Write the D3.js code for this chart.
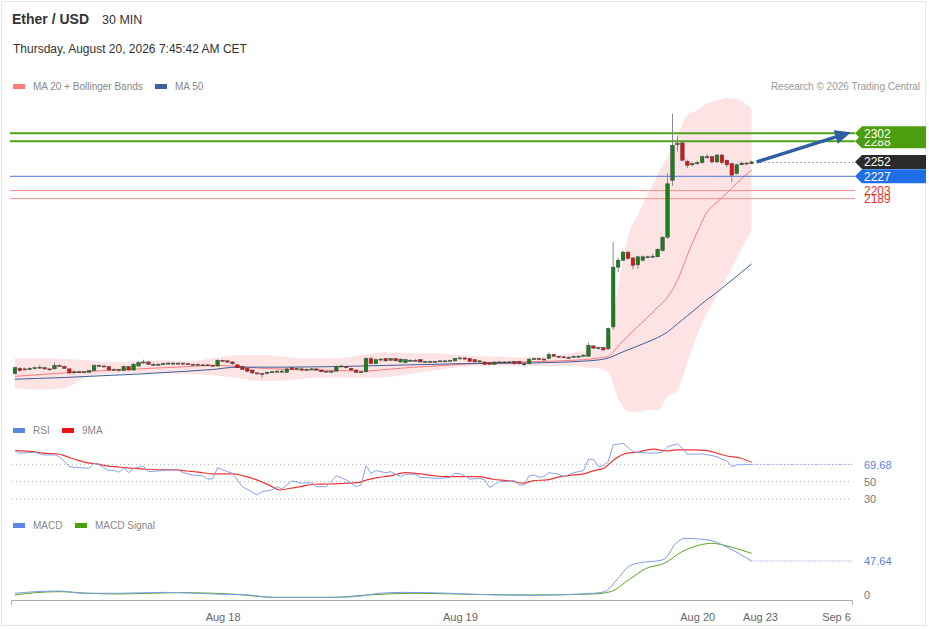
<!DOCTYPE html>
<html>
<head>
<meta charset="utf-8">
<script src="https://cdn.jsdelivr.net/npm/d3@7"></script>
<style>
  body { margin: 0; background: #fff; font-family: "Liberation Sans", Arial, sans-serif; }
</style>
</head>
<body>
<div id="chart"></div>
<script>
// ---- candle data (30 min bars, index 0 = Aug 17 03:00) ----
const opens = [
  1884,1893,1892,1891,1893,1894,1894,1892,1892,1898,
  1896,1892,1885,1887,1887,1886,1889,1898,1897,1896,
  1890,1891,1889,1896,1890,1897,1903,1904,1900,1900,
  1900,1901,1902,1902,1902,1901,1900,1900,1899,1899,
  1898,1897,1907,1906,1904,1899,1896,1893,1890,1885,
  1884,1884,1886,1887,1888,1886,1894,1891,1892,1890,
  1891,1892,1890,1887,1888,1888,1896,1896,1893,1890,
  1886,1887,1910,1901,1908,1910,1907,1910,1904,1903,
  1907,1907,1908,1904,1905,1905,1905,1906,1906,1906,
  1910,1911,1910,1908,1904,1904,1903,1900,1904,1904,
  1904,1905,1905,1901,1901,1909,1910,1909,1910,1917,
  1914,1913,1912,1912,1914,1914,1914,1932,1928,1929,
  1927,1965,2069,2081,2095,2085,2073,2081,2087,2087,
  2087,2098,2121,2220,2282,2285,2253,2247,2249,2251,
  2261,2261,2252,2264,2255,2249,2232,2247,2250,2249
];
const closes = [
  1894,1889,1891,1893,1894,1895,1892,1891,1898,1897,
  1893,1885,1887,1887,1886,1889,1898,1897,1897,1890,
  1891,1889,1896,1890,1900,1903,1904,1900,1900,1900,
  1901,1902,1902,1902,1901,1900,1900,1899,1899,1898,
  1897,1907,1906,1904,1901,1894,1891,1888,1885,1884,
  1883,1886,1887,1888,1888,1892,1891,1893,1890,1891,
  1892,1890,1887,1888,1888,1896,1897,1894,1890,1886,
  1887,1910,1901,1908,1909,1906,1910,1906,1909,1908,
  1907,1907,1904,1905,1905,1905,1906,1906,1907,1910,
  1911,1909,1905,1904,1906,1900,1900,1904,1904,1904,
  1904,1901,1901,1901,1909,1910,1909,1909,1917,1914,
  1913,1912,1912,1914,1914,1916,1933,1928,1929,1925,
  1962,2069,2081,2095,2084,2072,2087,2087,2087,2088,
  2100,2121,2214,2281,2284,2255,2246,2249,2251,2261,
  2261,2252,2264,2251,2247,2229,2247,2250,2249,2252
];
const highs = [
  1896,1895,1894,1895,1896,1898,1896,1893,1903,1900,
  1898,1893,1889,1889,1888,1890,1900,1899,1899,1897,
  1893,1892,1898,1897,1902,1905,1908,1906,1903,1902,
  1903,1904,1904,1903,1903,1902,1901,1901,1900,1900,
  1899,1909,1908,1907,1905,1900,1897,1894,1891,1886,
  1885,1888,1889,1890,1891,1893,1895,1895,1893,1893,
  1894,1893,1891,1889,1890,1898,1899,1897,1894,1891,
  1889,1912,1913,1910,1911,1911,1911,1911,1910,1909,
  1909,1909,1909,1906,1906,1906,1907,1907,1908,1911,
  1913,1912,1911,1909,1907,1905,1904,1905,1906,1905,
  1906,1906,1906,1903,1910,1912,1911,1911,1921,1918,
  1915,1914,1914,1915,1916,1917,1938,1933,1931,1931,
  1964,2113,2085,2098,2097,2086,2089,2089,2089,2092,
  2102,2123,2232,2336,2298,2287,2256,2252,2254,2263,
  2266,2263,2266,2266,2256,2251,2249,2252,2252,2254
];
const lows = [
  1882,1887,1889,1890,1891,1892,1890,1889,1891,1895,
  1892,1883,1884,1885,1885,1885,1888,1896,1895,1888,
  1889,1887,1888,1889,1889,1896,1901,1899,1898,1898,
  1899,1900,1900,1900,1899,1899,1898,1898,1897,1897,
  1896,1896,1904,1902,1899,1893,1890,1886,1883,1882,
  1877,1882,1885,1886,1886,1885,1890,1890,1888,1889,
  1890,1889,1886,1886,1886,1887,1895,1893,1889,1885,
  1885,1886,1900,1900,1906,1905,1906,1905,1903,1902,
  1905,1906,1903,1903,1904,1904,1904,1905,1905,1905,
  1909,1908,1904,1903,1903,1899,1899,1899,1903,1902,
  1903,1900,1900,1896,1900,1908,1907,1908,1909,1913,
  1911,1911,1910,1911,1913,1913,1913,1926,1926,1923,
  1925,1960,2060,2079,2082,2065,2066,2079,2085,2086,
  2086,2096,2118,2210,2270,2253,2241,2244,2247,2249,
  2257,2249,2250,2248,2243,2217,2230,2246,2247,2248
];

// ---- indicator readings (bar index -> value) ----
const indIdx = [0,5,10,15,20,25,30,35,40,45,50,55,60,65,70,75,80,85,90,95,100,105,110,115,
                118,120,122,124,126,128,130,132,134,136,138,140,142,144,146,149];
const ma20 = [1879,1882,1885,1887.5,1890,1892,1894,1896,1898.5,1896,1893,1891,1890,1889.5,1888,1891,1894.5,1897,1900,1902,
              1903.5,1904.5,1906,1908,1910.7,1914,1931.6,1949,1966,1982,1999,2017,2046,2090,2130,2165,2182,2198,2215,2238];
const ma50 = [1874,1875.5,1877,1879,1881,1883,1885.5,1888,1891,1895,1895,1895,1895.5,1896,1897,1898,1899,1900,1901,1901.5,
              1902,1902.5,1903.5,1905.5,1907.5,1910.7,1918,1925.3,1931.8,1939,1946.4,1956.3,1970.3,1984.4,1998.5,2012.6,2025.3,2039.4,2053.3,2074.5];
const bbUpper = [1910.7,1910.7,1909,1907,1903.7,1905.5,1907,1905.5,1910.7,1916,1916,1912.4,1910.7,1910.7,1916,1921,1919.3,1919.3,1916,1914,
                 1912.4,1912.4,1916,1923,1926,1933,2036,2122,2160,2196,2230,2261,2296,2333,2342,2354,2359,2363,2361,2345];
const bbLower = [1858.5,1856,1858.5,1879,1883,1884.6,1884.6,1882.9,1881,1876,1870.7,1872.4,1876,1877.6,1876,1877.6,1882.9,1889.8,1895,1896.8,
                 1896.8,1896.8,1896.8,1895,1893,1886,1841,1818.5,1817,1820,1820,1844.6,1855,1903.7,1950.7,1989,2020,2051.6,2084.6,2133.3];

const rsiIdx = [0,1,4,6,8,9,11,13,15,16,17,19,20,21,22,23,24,26,27,29,31,33,34,36,38,39,40,41,43,44,46,49,50,52,53,54,56,58,60,61,
                63,65,67,69,70,71,72,73,75,76,78,79,81,82,85,86,88,89,90,91,92,94,95,96,98,99,101,102,103,104,105,106,107,108,110,111,
                113,115,116,117,118,119,120,121,123,125,127,129,131,132,134,135,136,139,140,142,143,144,145,146,147,149];
const rsiVal = [85.8,82.8,83.9,80.8,80.8,78.8,67.3,66.1,65.4,71.2,69.3,62.7,63.5,60.8,65.4,60.4,65.4,68.1,61.5,62.3,63.5,63.5,60.4,57.7,56.6,52.8,53.5,66.1,61.5,59.7,
                44.2,34.7,38.5,40.4,44.2,41.6,50.8,48.2,48.8,44.2,44.2,56.9,52,44.2,46.2,68.5,59.7,62.7,60.4,61.5,55.8,58.5,58.5,55,53.9,53.9,55,59.7,58.9,56.6,
                52.8,53.9,52,43.1,50,50,51.2,46.2,46.2,56.6,57.7,55,55.8,60.4,58.5,55.8,60.4,62.7,75.8,75.8,67.3,68.5,73.1,92.3,94.3,84.6,83.4,82.8,83.9,90.4,
                93.5,88.5,81.6,81.9,81.1,78.8,75.8,74.2,67.3,69.3,69.6,69.68];
const rsiMaIdx = [0,3.7,5.7,8.8,10.5,12.5,14.5,16.5,18.6,21.3,23.9,26.7,30.7,32.7,34.8,37.4,40.1,44.2,46.2,48.9,51.6,53.6,55.7,57.7,60.4,63.8,66.5,69.2,71.2,73.2,
                  75.9,79,82,84.7,86.7,90,93.5,96.8,100.2,102.9,104.9,107.6,110.3,113,115,117.1,119.1,121.1,123.8,125.9,127.9,129.2,131.9,133.9,137.3,140,142,144,146.8,149];
const rsiMaVal = [85.8,84.6,82.8,81.9,78.8,75,71.9,70.4,68.1,66.6,65.4,64.3,63.5,63.5,62.3,60.8,58.9,58.9,56.6,52,45.4,40.4,42.4,44.2,47,47.3,48.1,48.8,52,54.6,
                  56.6,60.4,58.9,56.9,55.8,55.8,55.8,52.8,50.8,48.2,51.2,52,55.8,57.7,58.9,62.7,65.4,75,82.8,83.9,86.6,87.4,85.4,86.6,86.6,85.8,82.8,79.6,77,72.4];

const macdIdx = [0,4.2,9,13.7,21,30.5,36.5,42.5,47.3,52.1,56.9,64.1,68.9,73.7,78.5,83.3,88.1,92.9,98.9,104.9,110.9,116.9,119.3,121.7,124.1,126.5,130.1,131.3,133.7,135.5,138.5,140.9,144.5,149];
const macdVal = [2.4,4.7,5.6,2.4,2.4,3.7,2.4,0.9,0,-3.3,-3.3,-3.3,-2.3,2.4,3.7,3.3,2.4,0.9,0,-0.5,0.5,2.4,4.7,21,39.7,45.3,48,50,72.4,79.4,78.4,76.1,65.4,47.64];
const signalIdx = [0,4.2,9,15,21,32.9,44.9,52.1,64.1,71.3,80.9,92.9,104.9,116.9,120.5,124.1,127.7,131.3,134.9,138.5,140.9,143.3,146.9,149];
const signalVal = [0,3.3,4.7,2.4,1.4,3.3,0.9,-3.3,-3.3,0,2.4,0.9,0,1.4,4.7,21,37.3,44.3,60.6,70,72.4,70,63,58.4];

// ---- levels and axis ticks ----
const resistances = [2302, 2288];
const lastPrice = 2252;
const pivot = 2227;
const supports = [2203, 2189];
const tickDates = [new Date(2026,7,18), new Date(2026,7,19), new Date(2026,7,20), new Date(2026,7,23), new Date(2026,8,6)];
const tickLabels = ["Aug 18", "Aug 19", "Aug 20", "Aug 23", "Sep 6"];
const rsiLevels = [70, 50, 30];

// ---- layout ----
const width = 929, height = 629;
const font = '"Liberation Sans", Arial, sans-serif';
const last = closes.length - 1;
const barMs = 30 * 60 * 1000;
const t0 = new Date(2026, 7, 17, 3, 0);
const timeAt = i => new Date(t0.getTime() + i * barMs);

const svg = d3.select('#chart').append('svg')
    .attr('width', width).attr('height', height)
    .style('font-family', font);

svg.append('rect')
    .attr('x', 1.5).attr('y', 1.5).attr('width', 924).attr('height', 624)
    .attr('fill', '#fff').attr('stroke', '#e3e8ec');

// x: bars, then a compressed future zone
const x = d3.scaleTime()
    .domain([timeAt(-0.8), timeAt(last), tickDates[3], tickDates[4], new Date(2026, 8, 9)])
    .range([11, 751.6, 760, 836, 852]);
const xRight = x.range()[4];

const y = d3.scaleLinear().domain([1817, 2351]).range([412, 105]);
const yRsi = d3.scaleLinear().domain([30, 70]).range([499, 464.3]);
const yMacd = d3.scaleLinear().domain([0, 47.64]).range([595, 561]);

// ---- header ----
svg.append('text').attr('x', 12).attr('y', 24).text('Ether / USD')
    .attr('font-size', 14).attr('font-weight', 'bold').attr('fill', '#333');
svg.append('text').attr('x', 102).attr('y', 24).text('30 MIN')
    .attr('font-size', 12.5).attr('fill', '#333');
svg.append('text').attr('x', 13).attr('y', 53).text('Thursday, August 20, 2026 7:45:42 AM CET')
    .attr('font-size', 12).attr('fill', '#333');
svg.append('text').attr('x', 920).attr('y', 90).text('Research \u00a9 2026 Trading Central')
    .attr('font-size', 10).attr('fill', '#999').attr('text-anchor', 'end');

function legend(items, yy) {
    items.forEach(it => {
        svg.append('rect').attr('x', it.x).attr('y', yy - 6).attr('width', 12).attr('height', 5).attr('fill', it.color);
        svg.append('text').attr('x', it.x + 20).attr('y', yy).text(it.label)
            .attr('font-size', 10).attr('fill', '#888');
    });
}
legend([{x: 13, color: '#ff7a7a', label: 'MA 20 + Bollinger Bands'}, {x: 155, color: '#3b5f9e', label: 'MA 50'}], 90);
legend([{x: 13, color: '#5b84e6', label: 'RSI'}, {x: 62, color: '#ee1111', label: '9MA'}], 434);
legend([{x: 13, color: '#5b84e6', label: 'MACD'}, {x: 75, color: '#46a010', label: 'MACD Signal'}], 529);

// ---- main panel ----
const bands = indIdx.map((i, k) => ({t: timeAt(i), up: bbUpper[k], lo: bbLower[k], m20: ma20[k], m50: ma50[k]}));

svg.append('path').datum(bands)
    .attr('fill', '#fde3e3')
    .attr('d', d3.area().curve(d3.curveMonotoneX).x(d => x(d.t)).y0(d => y(d.lo)).y1(d => y(d.up)));

svg.append('path').datum(bands).attr('fill', 'none').attr('stroke', '#ff7a7a').attr('stroke-width', 1)
    .attr('d', d3.line().curve(d3.curveMonotoneX).x(d => x(d.t)).y(d => y(d.m20)));
svg.append('path').datum(bands).attr('fill', 'none').attr('stroke', '#3b5f9e').attr('stroke-width', 1)
    .attr('d', d3.line().curve(d3.curveMonotoneX).x(d => x(d.t)).y(d => y(d.m50)));

// level lines
resistances.forEach(v => {
    svg.append('line').attr('x1', 10).attr('x2', 855).attr('y1', y(v)).attr('y2', y(v))
        .attr('stroke', '#4fa31a').attr('stroke-width', 2);
});
svg.append('line').attr('x1', 10).attr('x2', 855).attr('y1', y(pivot)).attr('y2', y(pivot))
    .attr('stroke', '#4a78d8').attr('stroke-width', 1);
supports.forEach(v => {
    svg.append('line').attr('x1', 10).attr('x2', 855).attr('y1', y(v) + 0.5).attr('y2', y(v) + 0.5)
        .attr('stroke', '#f09090').attr('stroke-width', 1);
});
svg.append('line').attr('x1', x(timeAt(last)) + 5).attr('x2', 855)
    .attr('y1', y(lastPrice) + 0.5).attr('y2', y(lastPrice) + 0.5)
    .attr('stroke', '#555').attr('stroke-dasharray', '1,3');

// candles
const bars = closes.map((c, i) => ({t: timeAt(i), o: opens[i], h: highs[i], l: lows[i], c: c}));
const candle = svg.append('g').selectAll('g').data(bars).enter().append('g');
candle.append('line')
    .attr('x1', d => x(d.t)).attr('x2', d => x(d.t))
    .attr('y1', d => y(d.h)).attr('y2', d => y(d.l))
    .attr('stroke', '#888').attr('stroke-width', 1);
candle.append('rect')
    .attr('x', d => x(d.t) - 1.8).attr('width', 3.6)
    .attr('y', d => y(Math.max(d.o, d.c)))
    .attr('height', d => Math.max(1, Math.abs(y(d.o) - y(d.c))))
    .attr('fill', d => d.c > d.o ? '#17801a' : (d.c < d.o ? '#e31010' : '#444'))
    .attr('stroke', '#444').attr('stroke-width', 0.5);

// projection arrow
const ax0 = x(timeAt(last)) + 5, ay0 = y(lastPrice);
const ax1 = xRight - 1, ay1 = y(resistances[0]) - 1;
const ang = Math.atan2(ay1 - ay0, ax1 - ax0);
const headL = 16, headW = 7;
const bx = ax1 - headL * Math.cos(ang), by = ay1 - headL * Math.sin(ang);
svg.append('line').attr('x1', ax0).attr('y1', ay0).attr('x2', bx + 2 * Math.cos(ang)).attr('y2', by + 2 * Math.sin(ang))
    .attr('stroke', '#2f5ea6').attr('stroke-width', 3.5);
svg.append('path')
    .attr('d', `M${ax1},${ay1}L${bx - headW * Math.sin(ang)},${by + headW * Math.cos(ang)}L${bx + headW * Math.sin(ang)},${by - headW * Math.cos(ang)}Z`)
    .attr('fill', '#2f5ea6');

// right price labels (2288 sits under the 2302 tag, 2203 under the 2227 tag, as in the source)
function tag(v, fill) {
    const yc = y(v);
    svg.append('path')
        .attr('d', `M855,${yc}L862,${yc - 7}L926,${yc - 7}L926,${yc + 7}L862,${yc + 7}Z`)
        .attr('fill', fill);
    svg.append('text').attr('x', 864).attr('y', yc + 4.5).text(v)
        .attr('font-size', 12).attr('fill', '#fff');
}
supports.forEach(v => {
    svg.append('text').attr('x', 864).attr('y', y(v) + 4.5).text(v)
        .attr('font-size', 12).attr('fill', '#e8302a');
});
tag(resistances[1], '#4c9e10');
tag(resistances[0], '#4c9e10');
tag(pivot, '#1f6ee8');
tag(lastPrice, '#2b2b2b');

// ---- RSI panel ----
rsiLevels.forEach(v => {
    svg.append('line').attr('x1', 12).attr('x2', xRight).attr('y1', yRsi(v)).attr('y2', yRsi(v))
        .attr('stroke', '#aaa').attr('stroke-dasharray', '1,3');
});
const rsiPts = rsiIdx.map((i, k) => ({t: timeAt(i), v: rsiVal[k]}));
const rsiMaPts = rsiMaIdx.map((i, k) => ({t: timeAt(i), v: rsiMaVal[k]}));
const rsiLast = rsiVal[rsiVal.length - 1];
svg.append('line').attr('x1', x(timeAt(last))).attr('x2', xRight)
    .attr('y1', yRsi(rsiLast)).attr('y2', yRsi(rsiLast))
    .attr('stroke', '#6d8fe8').attr('stroke-dasharray', '1,2');
svg.append('path').datum(rsiMaPts).attr('fill', 'none').attr('stroke', '#f03434').attr('stroke-width', 1.2)
    .attr('d', d3.line().curve(d3.curveMonotoneX).x(d => x(d.t)).y(d => yRsi(d.v)));
svg.append('path').datum(rsiPts).attr('fill', 'none').attr('stroke', '#86a2ea').attr('stroke-width', 1)
    .attr('d', d3.line().x(d => x(d.t)).y(d => yRsi(d.v)));
svg.append('text').attr('x', 864).attr('y', yRsi(rsiLast) + 4).text(rsiLast.toFixed(2))
    .attr('font-size', 11).attr('fill', '#5b7fe0');
rsiLevels.slice(1).forEach(v => {
    svg.append('text').attr('x', 864).attr('y', yRsi(v) + 4).text(v).attr('font-size', 11).attr('fill', '#777');
});

// ---- MACD panel ----
const macdPts = macdIdx.map((i, k) => ({t: timeAt(i), v: macdVal[k]}));
const sigPts = signalIdx.map((i, k) => ({t: timeAt(i), v: signalVal[k]}));
const macdLast = macdVal[macdVal.length - 1];
svg.append('line').attr('x1', x(timeAt(last))).attr('x2', xRight)
    .attr('y1', yMacd(macdLast)).attr('y2', yMacd(macdLast))
    .attr('stroke', '#6d8fe8').attr('stroke-dasharray', '1,2');
svg.append('path').datum(sigPts).attr('fill', 'none').attr('stroke', '#5aa51e').attr('stroke-width', 1)
    .attr('d', d3.line().curve(d3.curveMonotoneX).x(d => x(d.t)).y(d => yMacd(d.v)));
svg.append('path').datum(macdPts).attr('fill', 'none').attr('stroke', '#7b9be8').attr('stroke-width', 1)
    .attr('d', d3.line().curve(d3.curveMonotoneX).x(d => x(d.t)).y(d => yMacd(d.v)));
svg.append('text').attr('x', 864).attr('y', yMacd(macdLast) + 4).text(macdLast.toFixed(2))
    .attr('font-size', 11).attr('fill', '#5b7fe0');
svg.append('text').attr('x', 864).attr('y', yMacd(0) + 4).text('0')
    .attr('font-size', 11).attr('fill', '#777');

// ---- time axis ----
const axis = svg.append('g')
    .attr('transform', 'translate(0,600)')
    .call(d3.axisBottom(x).tickValues(tickDates).tickFormat((d, i) => tickLabels[i])
        .tickSizeInner(0).tickSizeOuter(5).tickPadding(13));
axis.select('.domain').attr('stroke', '#aaa');
axis.selectAll('text').attr('fill', '#666').style('font-size', '11px').style('font-family', font);
</script>
</body>
</html>
